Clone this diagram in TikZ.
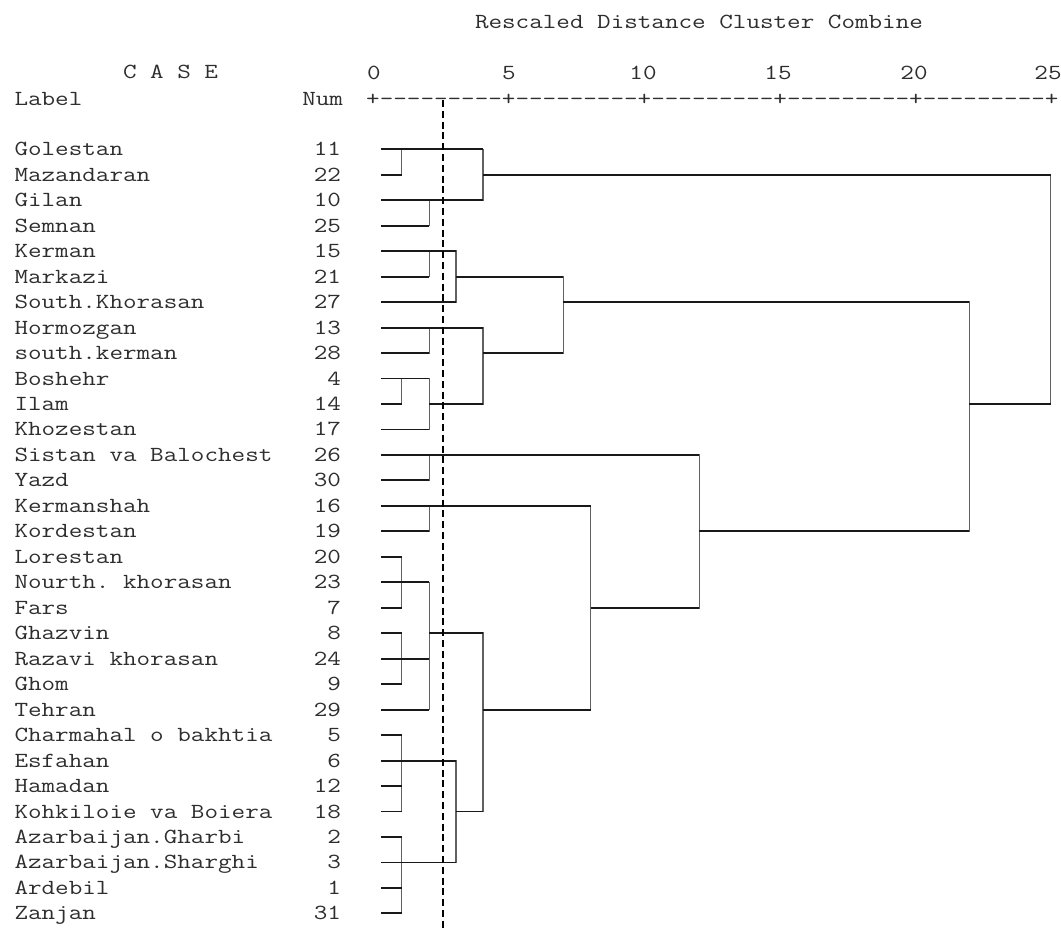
\documentclass[tikz,border=0pt]{standalone}
\usepackage{graphicx}
\newcommand\mytt[1]{\scalebox{1.226}[1]{\fontsize{21.5}{25}\selectfont\ttfamily\frenchspacing #1}}
\newcommand\myhy{\mbox{-}}
\newcommand\mynine{\myhy\myhy\myhy\myhy\myhy\myhy\myhy\myhy\myhy}
\newcommand\hseg[3]{\draw[hline] (r#1 -| #2) -- (r#1 -| #3);}
\newcommand\vseg[3]{\draw[vline] (r#2 -| #1) -- (r#3 -| #1);}
\begin{document}
\begin{tikzpicture}[x=1pt,y=1pt,
  txt/.style={inner sep=0pt, outer sep=0pt, text=black!82},
  hline/.style={line width=1.9pt, draw=black!90},
  vline/.style={line width=1.5pt, draw=black!62, line cap=rect},
  cut/.style={line width=1.8pt, draw=black, dash pattern=on 7pt off 3.8pt}]
\useasboundingbox (0,0) rectangle (1061,-930);
\fill[white] (0,0) rectangle (1061,-930);

% header
\node[txt, anchor=base west] (title) at (475,-28) {\mytt{Rescaled Distance Cluster Combine}};
\node[txt, anchor=base west] (case) at (123,-78) {\mytt{C A S E}};
\node[txt, anchor=base west] (label) at (14.5,-105) {\mytt{Label}};
\node[txt, anchor=base east] (numh) at (343,-105) {\mytt{Num}};
\foreach \v/\xx in {0/374,5/509,10/643,15/778,20/914,25/1048}
  \node[txt, anchor=base] (ax\v) at (\xx,-79) {\mytt{\v}};
\node[txt, anchor=base west] (axis) at (366.2,-105)
  {\mytt{+\mynine+\mynine+\mynine+\mynine+\mynine+}};

% x positions of the joins
\coordinate (L) at (381,0);
\coordinate (X1) at (401.7,0);
\coordinate (X2) at (429.3,0);
\coordinate (X3) at (456,0);
\coordinate (X4) at (482.8,0);
\coordinate (X5) at (563.3,0);
\coordinate (X6) at (590.7,0);
\coordinate (X7) at (699.3,0);
\coordinate (X8) at (969.3,0);
\coordinate (X9) at (1050.7,0);

% case rows
\foreach \lab/\num [count=\i] in {Golestan/11, Mazandaran/22, Gilan/10, Semnan/25,
  Kerman/15, Markazi/21, South.Khorasan/27, Hormozgan/13, south.kerman/28,
  Boshehr/4, Ilam/14, Khozestan/17, Sistan va Balochest/26, Yazd/30,
  Kermanshah/16, Kordestan/19, Lorestan/20, Nourth. khorasan/23, Fars/7,
  Ghazvin/8, Razavi khorasan/24, Ghom/9, Tehran/29, Charmahal o bakhtia/5,
  Esfahan/6, Hamadan/12, Kohkiloie va Boiera/18, Azarbaijan.Gharbi/2,
  Azarbaijan.Sharghi/3, Ardebil/1, Zanjan/31}{
  \coordinate (r\i) at (381,{-149.3-(\i-1)*25.47});
  \node[txt, anchor=base west] (lab\i) at (14.5,{-149.3-(\i-1)*25.47-6.5}) {\mytt{\lab}};
  \node[txt, anchor=base east] (num\i) at (341,{-149.3-(\i-1)*25.47-6.5}) {\mytt{\num}};
}

% vertical joins
\vseg{X1}{1}{2} \vseg{X1}{10}{11} \vseg{X1}{17}{19} \vseg{X1}{20}{22}
\vseg{X1}{24}{27} \vseg{X1}{28}{31}
\vseg{X2}{3}{4} \vseg{X2}{5}{6} \vseg{X2}{8}{9} \vseg{X2}{10}{12}
\vseg{X2}{13}{14} \vseg{X2}{15}{16} \vseg{X2}{18}{23}
\vseg{X3}{5}{7} \vseg{X3}{25}{29}
\vseg{X4}{1}{3} \vseg{X4}{8}{11} \vseg{X4}{20}{27}
\vseg{X5}{6}{9}
\vseg{X6}{15}{23}
\vseg{X7}{13}{19}
\vseg{X8}{7}{16}
\vseg{X9}{2}{11}

% horizontal lines
\hseg{1}{L}{X4} \hseg{2}{L}{X1} \hseg{2}{X4}{X9}
\hseg{3}{L}{X4} \hseg{4}{L}{X2}
\hseg{5}{L}{X3} \hseg{6}{L}{X2} \hseg{6}{X3}{X5}
\hseg{7}{L}{X3} \hseg{7}{X5}{X8}
\hseg{8}{L}{X4} \hseg{9}{L}{X2} \hseg{9}{X4}{X5}
\hseg{10}{L}{X2} \hseg{11}{L}{X1} \hseg{11}{X2}{X4} \hseg{11}{X8}{X9}
\hseg{12}{L}{X2}
\hseg{13}{L}{X7} \hseg{14}{L}{X2}
\hseg{15}{L}{X6} \hseg{16}{L}{X2} \hseg{16}{X7}{X8}
\hseg{17}{L}{X1} \hseg{18}{L}{X2} \hseg{19}{L}{X1} \hseg{19}{X6}{X7}
\hseg{20}{L}{X1} \hseg{20}{X2}{X4} \hseg{21}{L}{X2} \hseg{22}{L}{X1}
\hseg{23}{L}{X2} \hseg{23}{X4}{X6}
\hseg{24}{L}{X1} \hseg{25}{L}{X3} \hseg{26}{L}{X1} \hseg{27}{L}{X1}
\hseg{27}{X3}{X4}
\hseg{28}{L}{X1} \hseg{29}{L}{X3} \hseg{30}{L}{X1} \hseg{31}{L}{X1}

% cut line
\coordinate (cutTop) at (442.7,-100);
\coordinate (cutBot) at (442.7,-930);
\draw[cut] (cutTop) -- (cutBot);
\end{tikzpicture}
\end{document}
